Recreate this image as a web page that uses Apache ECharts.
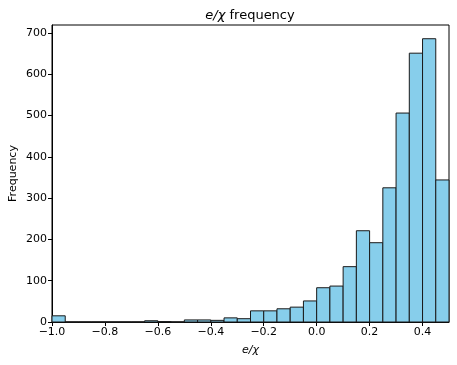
<!DOCTYPE html>
<html>
<head>
<meta charset="utf-8">
<script src="https://cdn.jsdelivr.net/npm/echarts@6/dist/echarts.min.js"></script>
<style>
  html, body { margin: 0; padding: 0; background: #fff; }
  #chart { width: 457px; height: 365px; }
</style>
</head>
<body>
<div id="chart"></div>
<script>
// histogram bins (left edges), width 0.05
const binLeft = [-1.0, -0.95, -0.9, -0.85, -0.8, -0.75, -0.7, -0.65, -0.6, -0.55,
                 -0.5, -0.45, -0.4, -0.35, -0.3, -0.25, -0.2, -0.15, -0.1, -0.05,
                 0.0, 0.05, 0.1, 0.15, 0.2, 0.25, 0.3, 0.35, 0.4, 0.45];
const binWidth = 0.05;
const counts = [15, 0, 0, 0, 0, 0, 0, 3, 1, 0,
                5, 5, 4, 10, 8, 27, 27, 32, 36, 51,
                83, 87, 134, 221, 192, 325, 506, 651, 686, 344];
const xTicks = [-1.0, -0.8, -0.6, -0.4, -0.2, 0.0, 0.2, 0.4];
const yTicks = [0, 100, 200, 300, 400, 500, 600, 700];

const font = "DejaVu Sans";
const fmt = v => v.toFixed(1).replace('-', '\u2212');

const data = binLeft.map((b, i) => [b, b + binWidth, counts[i]]);

const chart = echarts.init(document.getElementById('chart'));
chart.setOption({
  animation: false,
  title: {
    text: '{i|e/\u03c7} frequency',
    left: 245, top: 4, textAlign: 'center',
    textStyle: {
      fontFamily: font, fontSize: 13, fontWeight: 'normal', color: '#000',
      rich: { i: { fontFamily: font, fontSize: 13, fontStyle: 'italic', color: '#000' } }
    }
  },
  grid: {
    left: 52, right: 8, top: 25, bottom: 43,
    containLabel: false, outerBoundsMode: 'none',
    show: true, borderColor: '#000', borderWidth: 1
  },
  xAxis: {
    type: 'value', min: -1.0, max: 0.5,
    name: 'e/\u03c7', nameLocation: 'middle', nameGap: 23,
    nameTextStyle: { fontFamily: font, fontSize: 11, fontStyle: 'italic', color: '#000' },
    axisLine: { show: true, onZero: false, lineStyle: { color: '#000', width: 1 } },
    axisTick: { show: true, length: 4, customValues: xTicks, lineStyle: { color: '#000' } },
    axisLabel: { customValues: xTicks, formatter: fmt, fontFamily: font, fontSize: 11, color: '#000', margin: 5 },
    splitLine: { show: false }
  },
  yAxis: {
    type: 'value', min: 0, max: 719.25,
    name: 'Frequency', nameLocation: 'middle', nameGap: 33, nameMoveOverlap: false,
    nameTextStyle: { fontFamily: font, fontSize: 11, color: '#000' },
    axisLine: { show: true, onZero: false, lineStyle: { color: '#000', width: 1 } },
    axisTick: { show: true, length: 4, customValues: yTicks, lineStyle: { color: '#000' } },
    axisLabel: { customValues: yTicks, fontFamily: font, fontSize: 11, color: '#000', margin: 5 },
    splitLine: { show: false }
  },
  series: [{
    type: 'custom',
    data: data,
    encode: { x: [0, 1], y: 2 },
    renderItem: function (params, api) {
      const p0 = api.coord([api.value(0), api.value(2)]);
      const p1 = api.coord([api.value(1), 0]);
      return {
        type: 'rect',
        shape: { x: p0[0], y: p0[1], width: p1[0] - p0[0], height: p1[1] - p0[1] },
        style: { fill: '#87CEEB', stroke: '#1a1a1a', lineWidth: 1 }
      };
    }
  }]
});
</script>
</body>
</html>
